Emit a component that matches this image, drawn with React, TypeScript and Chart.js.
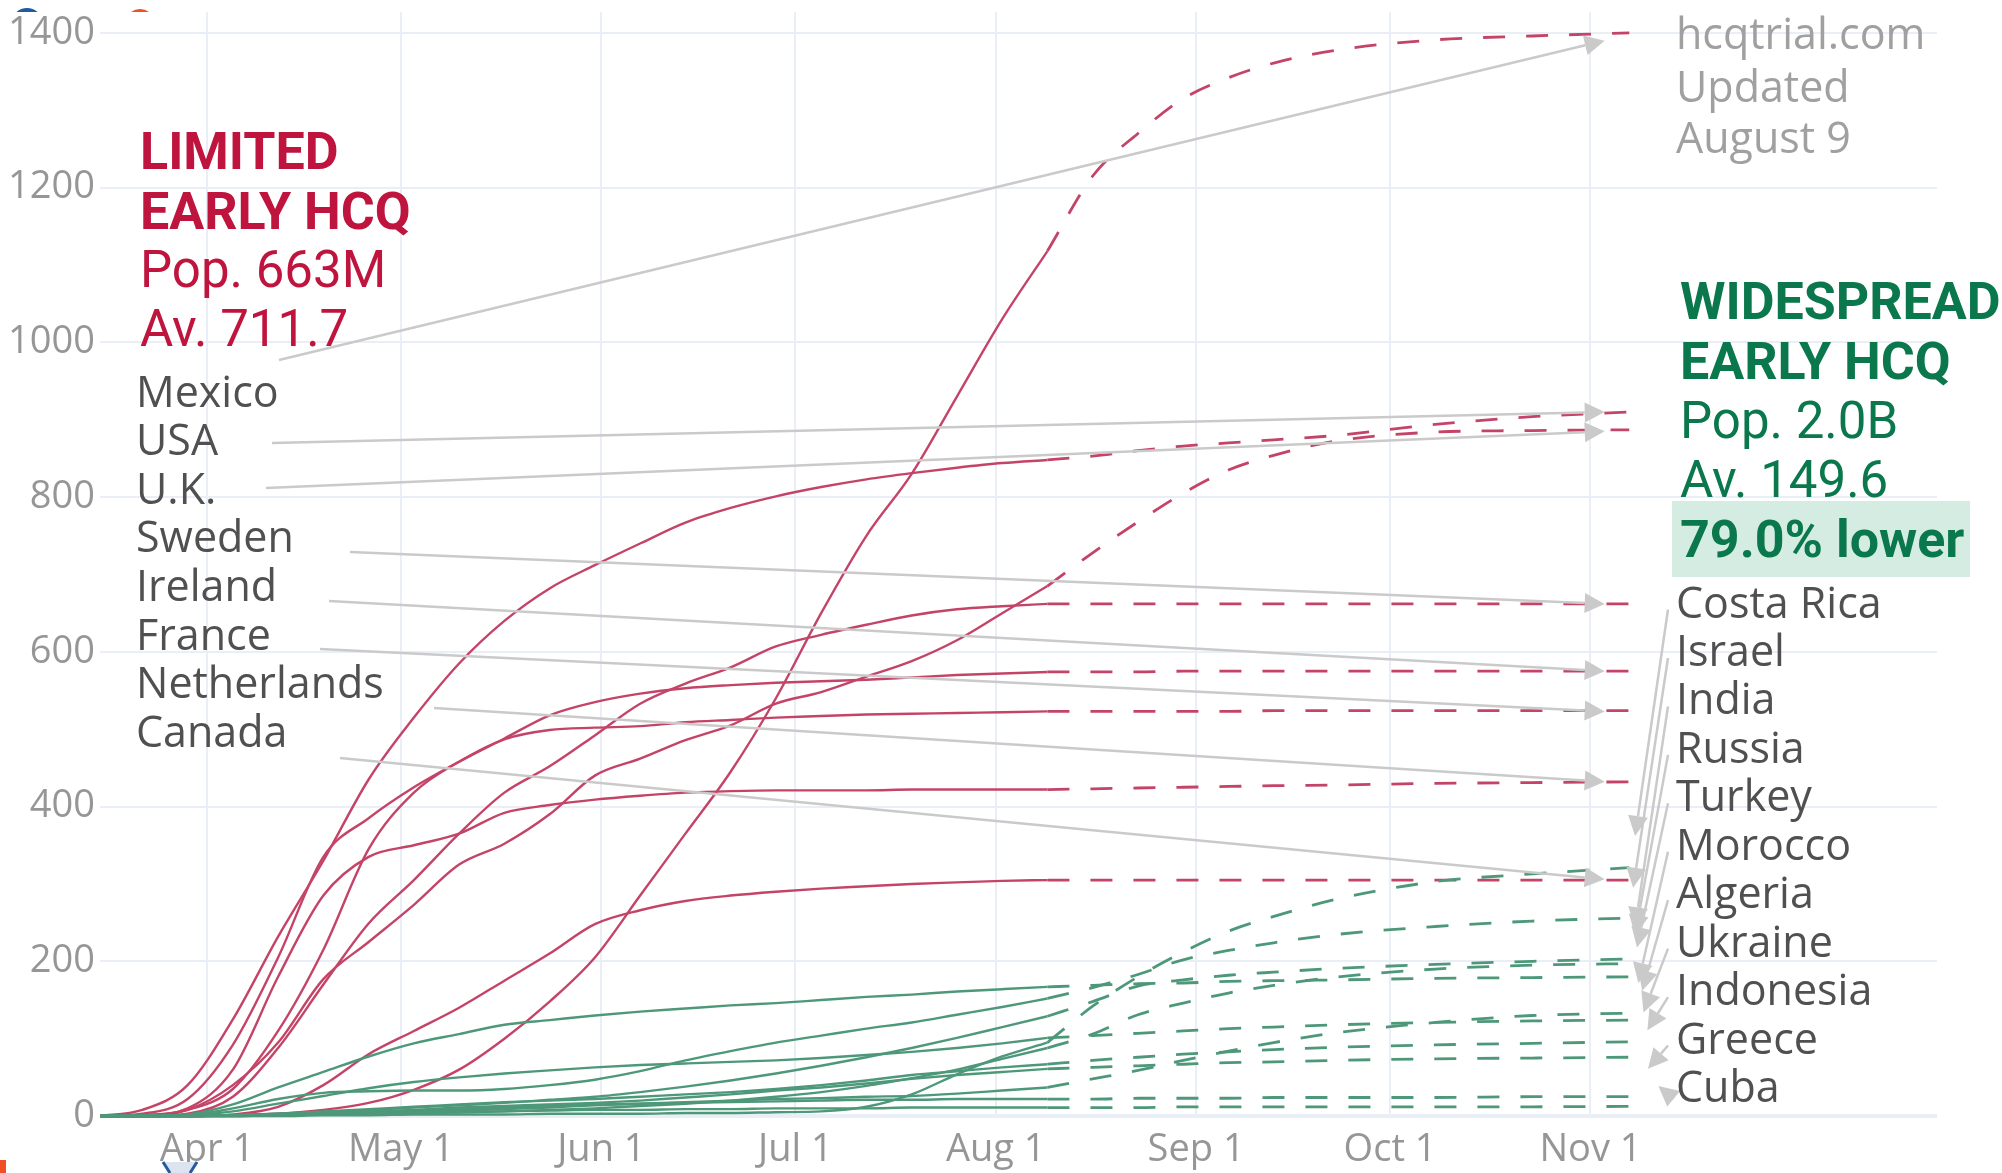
import React, { useEffect, useRef } from 'react';
import { Chart, registerables } from 'chart.js';

Chart.register(...registerables);

// ---------- axes ----------
const xTickDays = [0, 30, 61, 91, 122, 153, 183, 214]; // days since Apr 1
const xTickLabels = ['Apr 1', 'May 1', 'Jun 1', 'Jul 1', 'Aug 1', 'Sep 1', 'Oct 1', 'Nov 1'];
const yTickValues = [0, 200, 400, 600, 800, 1000, 1200, 1400];

// ---------- dates (days since Apr 1) ----------
const solidDays = [-17, -10, -3, 4, 11, 18, 25, 32, 39, 46, 53, 60, 67, 74, 81, 88, 95, 102, 109, 116, 123, 130];
const projDays = [130, 137, 144, 151, 158, 165, 175, 190, 205, 220];

// ---------- LIMITED EARLY HCQ (red) ----------
const mexicoSolid = [0, 0, 0, 1, 3, 8, 17, 34, 60, 100, 148, 205, 285, 365, 445, 540, 650, 750, 830, 930, 1030, 1118];
const mexicoProj = [1118, 1215, 1270, 1315, 1342, 1361, 1378, 1391, 1396, 1400];
const usaSolid = [0, 8, 40, 125, 232, 330, 435, 515, 585, 640, 682, 712, 740, 767, 786, 801, 813, 823, 831, 838, 844, 848];
const usaProj = [848, 853, 860, 866, 870, 874, 880, 894, 904, 910];
const ukSolid = [0, 0, 8, 40, 95, 177, 225, 273, 325, 352, 390, 440, 462, 486, 505, 533, 548, 568, 588, 615, 650, 685];
const ukProj = [685, 728, 768, 805, 835, 854, 873, 884, 886, 887];
const swedenSolid = [0, 0, 3, 25, 88, 170, 249, 305, 365, 418, 452, 492, 533, 559, 580, 607, 622, 635, 647, 655, 659, 662];
const swedenProj = [662, 662, 662, 662, 662, 662, 662, 662, 662, 662];
const irelandSolid = [0, 3, 22, 92, 205, 335, 385, 425, 458, 488, 518, 535, 546, 553, 557, 560, 562, 564, 567, 570, 572, 574];
const irelandProj = [574, 574, 574, 575, 575, 575, 575, 575, 575, 575];
const franceSolid = [0, 1, 8, 35, 110, 215, 345, 418, 458, 487, 499, 502, 504, 509, 512, 515, 517, 519, 520, 521, 522, 523];
const franceProj = [523, 523, 523, 523, 523, 524, 524, 524, 524, 524];
const netherlandsSolid = [0, 1, 10, 60, 180, 285, 335, 350, 365, 392, 402, 409, 414, 418, 420, 421, 421, 421, 422, 422, 422, 422];
const netherlandsProj = [422, 423, 424, 425, 426, 427, 428, 430, 431, 432];
const canadaSolid = [0, 0, 0, 2, 12, 40, 80, 110, 140, 175, 210, 248, 266, 278, 285, 290, 294, 297, 300, 302, 304, 305];
const canadaProj = [305, 305, 305, 305, 305, 305, 305, 305, 305, 305];

// ---------- WIDESPREAD EARLY HCQ (green) ----------
const costaRicaSolid = [0, 0, 0, 0, 0, 1, 1, 2, 2, 2, 3, 3, 3, 4, 4, 5, 6, 12, 28, 54, 77, 95];
const costaRicaProj = [95, 142, 180, 212, 239, 258, 281, 303, 313, 321];
const israelSolid = [0, 0, 1, 10, 22, 30, 32, 33, 33, 35, 40, 47, 58, 72, 84, 95, 104, 113, 121, 131, 141, 152];
const israelProj = [152, 166, 183, 202, 214, 224, 235, 245, 252, 256];
const indiaSolid = [0, 0, 0, 1, 3, 5, 8, 11, 14, 17, 21, 25, 31, 38, 46, 55, 65, 76, 88, 101, 115, 129];
const indiaProj = [129, 148, 168, 176, 182, 186, 191, 196, 200, 203];
const russiaSolid = [0, 0, 0, 0, 1, 2, 3, 4, 5, 6, 8, 10, 13, 16, 20, 25, 31, 39, 49, 60, 74, 88];
const russiaProj = [88, 106, 131, 146, 159, 169, 180, 190, 195, 197];
const turkeySolid = [0, 0, 2, 15, 37, 57, 77, 94, 106, 118, 124, 130, 135, 139, 143, 146, 150, 154, 157, 161, 164, 167];
const turkeyProj = [167, 169, 171, 172, 174, 175, 176, 178, 179, 180];
const moroccoSolid = [0, 0, 0, 0, 1, 2, 3, 5, 7, 9, 11, 14, 16, 18, 20, 22, 23, 25, 26, 29, 33, 37];
const moroccoProj = [37, 48, 59, 72, 84, 95, 108, 121, 130, 133];
const algeriaSolid = [0, 0, 1, 6, 16, 26, 36, 44, 50, 55, 59, 63, 66, 68, 70, 72, 75, 79, 83, 88, 94, 101];
const algeriaProj = [101, 104, 107, 110, 113, 115, 118, 121, 123, 124];
const ukraineSolid = [0, 0, 0, 1, 3, 6, 9, 12, 15, 18, 20, 22, 25, 28, 31, 35, 40, 46, 53, 58, 63, 67];
const ukraineProj = [67, 72, 76, 80, 83, 86, 89, 92, 94, 96];
const indonesiaSolid = [0, 0, 0, 1, 2, 4, 6, 8, 11, 13, 15, 17, 20, 24, 28, 33, 37, 42, 48, 53, 57, 61];
const indonesiaProj = [61, 63, 65, 67, 69, 70, 72, 74, 75, 76];
const greeceSolid = [0, 0, 0, 1, 2, 3, 5, 7, 9, 11, 13, 15, 16, 17, 18, 19, 20, 21, 21, 22, 22, 22];
const greeceProj = [22, 22, 23, 23, 23, 24, 24, 24, 25, 25];
const cubaSolid = [0, 0, 0, 0, 1, 2, 3, 4, 5, 6, 7, 8, 8, 9, 9, 10, 10, 10, 11, 11, 11, 11];
const cubaProj = [11, 11, 11, 12, 12, 12, 12, 12, 12, 12.5];

const limitedSeries = [
  { solid: mexicoSolid, proj: mexicoProj },
  { solid: usaSolid, proj: usaProj },
  { solid: ukSolid, proj: ukProj },
  { solid: swedenSolid, proj: swedenProj },
  { solid: irelandSolid, proj: irelandProj },
  { solid: franceSolid, proj: franceProj },
  { solid: netherlandsSolid, proj: netherlandsProj },
  { solid: canadaSolid, proj: canadaProj },
];
const widespreadSeries = [
  { solid: costaRicaSolid, proj: costaRicaProj },
  { solid: israelSolid, proj: israelProj },
  { solid: indiaSolid, proj: indiaProj },
  { solid: russiaSolid, proj: russiaProj },
  { solid: turkeySolid, proj: turkeyProj },
  { solid: moroccoSolid, proj: moroccoProj },
  { solid: algeriaSolid, proj: algeriaProj },
  { solid: ukraineSolid, proj: ukraineProj },
  { solid: indonesiaSolid, proj: indonesiaProj },
  { solid: greeceSolid, proj: greeceProj },
  { solid: cubaSolid, proj: cubaProj },
];

// ---------- labels & arrows ----------
const leftLabels = ['Mexico', 'USA', 'U.K.', 'Sweden', 'Ireland', 'France', 'Netherlands', 'Canada'];
const leftTipDays = [216.2, 216.2, 216.2, 216.2, 216.2, 216.2, 216.2, 216.2];
const leftTipValues = [1390, 910, 885, 662, 575, 523, 432, 306];
const leftArrowStarts = [[279, 360], [272, 443], [266, 488], [350, 552], [329, 601], [320, 649], [434, 708], [340, 758]];

const rightLabels = ['Costa Rica', 'Israel', 'India', 'Russia', 'Turkey', 'Morocco', 'Algeria', 'Ukraine', 'Indonesia', 'Greece', 'Cuba'];
const rightTipDays = [220.9, 220.6, 220.9, 220.9, 221.2, 221.4, 222.0, 222.2, 222.8, 222.9, 224.5];
const rightTipValues = [362, 295, 244, 234, 218, 172, 162, 134, 111, 61, 39];

const leftTitle = ['LIMITED', 'EARLY HCQ', 'Pop. 663M', 'Av. 711.7'];
const rightTitle = ['WIDESPREAD', 'EARLY HCQ', 'Pop. 2.0B', 'Av. 149.6', '79.0% lower'];
const sourceNote = ['hcqtrial.com', 'Updated', 'August 9'];

// ---------- styles ----------
const RED = 'rgb(196, 68, 104)';
const GREEN = 'rgb(78, 152, 122)';
const GRID = 'rgb(234, 238, 246)';
const TICK = 'rgb(150, 150, 150)';
const ARROW = 'rgb(202, 202, 202)';
const LABEL = 'rgb(80, 80, 80)';
const TITLE_RED = 'rgb(190, 20, 62)';
const TITLE_GREEN = 'rgb(10, 120, 76)';
const NOTE = 'rgb(160, 160, 160)';
const HILITE = 'rgb(213, 236, 226)';

function drawArrow(ctx: CanvasRenderingContext2D, x1: number, y1: number, x2: number, y2: number) {
  const ang = Math.atan2(y2 - y1, x2 - x1);
  const L = 20;
  const W = 10;
  const bx = x2 - L * Math.cos(ang);
  const by = y2 - L * Math.sin(ang);
  ctx.strokeStyle = ARROW;
  ctx.lineWidth = 2.5;
  ctx.setLineDash([]);
  ctx.beginPath();
  ctx.moveTo(x1, y1);
  ctx.lineTo(bx, by);
  ctx.stroke();
  ctx.fillStyle = ARROW;
  ctx.beginPath();
  ctx.moveTo(x2, y2);
  ctx.lineTo(bx + W * Math.sin(ang), by - W * Math.cos(ang));
  ctx.lineTo(bx - W * Math.sin(ang), by + W * Math.cos(ang));
  ctx.closePath();
  ctx.fill();
}

const annotationPlugin = {
  id: 'hcqAnnotations',
  afterDatasetsDraw(chart: any) {
    const { ctx, scales } = chart;
    const x = scales.x;
    const y = scales.y;
    ctx.save();
    leftLabels.forEach((_, i) => {
      const [sx, sy] = leftArrowStarts[i];
      drawArrow(ctx, sx, sy, x.getPixelForValue(leftTipDays[i]), y.getPixelForValue(leftTipValues[i]));
    });
    rightLabels.forEach((_, i) => {
      const baseY = 617.5 + i * 48.45;
      drawArrow(ctx, 1668, baseY - 8, x.getPixelForValue(rightTipDays[i]), y.getPixelForValue(rightTipValues[i]));
    });
    ctx.restore();
  },
  afterDraw(chart: any) {
    const ctx: CanvasRenderingContext2D = chart.ctx;
    ctx.save();
    ctx.textBaseline = 'alphabetic';
    ctx.textAlign = 'left';

    // left title block
    const leftBase = [169, 229, 287, 346];
    leftTitle.forEach((t, i) => {
      ctx.font = (i < 2 ? 'bold 52px Roboto' : '51px Roboto');
      ctx.fillStyle = TITLE_RED;
      ctx.fillText(t, 140, leftBase[i]);
    });

    // left country labels
    ctx.font = '43px "Open Sans"';
    ctx.fillStyle = LABEL;
    leftLabels.forEach((t, i) => {
      ctx.fillText(t, 136, 406.5 + i * 48.6);
    });

    // source note
    ctx.font = '43px "Open Sans"';
    ctx.fillStyle = NOTE;
    const noteBase = [49, 102, 153];
    sourceNote.forEach((t, i) => ctx.fillText(t, 1676, noteBase[i]));

    // right title block
    ctx.fillStyle = HILITE;
    ctx.fillRect(1672, 501, 298, 76);
    const rightBase = [319, 379, 438, 497, 557];
    rightTitle.forEach((t, i) => {
      ctx.font = (i < 2 || i === 4 ? 'bold 52px Roboto' : '51px Roboto');
      ctx.fillStyle = TITLE_GREEN;
      ctx.fillText(t, 1680, rightBase[i]);
    });

    // right country labels
    ctx.font = '43px "Open Sans"';
    ctx.fillStyle = LABEL;
    rightLabels.forEach((t, i) => {
      ctx.fillText(t, 1676, 617.5 + i * 48.45);
    });

    // cut-off logo fragments at the edges
    ctx.save();
    ctx.beginPath();
    ctx.rect(0, 0, 400, 12);
    ctx.clip();
    ctx.strokeStyle = 'rgb(35, 90, 160)';
    ctx.lineWidth = 4;
    ctx.beginPath();
    ctx.arc(27, 24, 14, 0, Math.PI * 2);
    ctx.stroke();
    ctx.fillStyle = 'rgb(240, 80, 40)';
    ctx.beginPath();
    ctx.arc(140, 24, 15, 0, Math.PI * 2);
    ctx.fill();
    ctx.restore();

    ctx.fillStyle = 'rgb(240, 80, 40)';
    ctx.fillRect(0, 1160, 6, 13);
    ctx.fillStyle = 'rgb(220, 228, 240)';
    ctx.beginPath();
    ctx.moveTo(163, 1162);
    ctx.lineTo(197, 1162);
    ctx.lineTo(190, 1173);
    ctx.lineTo(170, 1173);
    ctx.closePath();
    ctx.fill();
    ctx.strokeStyle = 'rgb(35, 90, 160)';
    ctx.lineWidth = 3;
    ctx.beginPath();
    ctx.moveTo(163, 1162);
    ctx.lineTo(170, 1173);
    ctx.moveTo(197, 1162);
    ctx.lineTo(190, 1173);
    ctx.stroke();

    ctx.restore();
  },
};

export default function App() {
  const canvasRef = useRef<HTMLCanvasElement>(null);

  useEffect(() => {
    const canvas = canvasRef.current;
    if (!canvas) return;

    const datasets: any[] = [];
    const addGroup = (list: { solid: number[]; proj: number[] }[], color: string) => {
      list.forEach((s) => {
        datasets.push({
          data: solidDays.map((d, i) => ({ x: d, y: s.solid[i] })),
          borderColor: color,
          borderWidth: 2.4,
          pointRadius: 0,
          fill: false,
          cubicInterpolationMode: 'monotone',
        });
        datasets.push({
          data: projDays.map((d, i) => ({ x: d, y: s.proj[i] })),
          borderColor: color,
          borderWidth: 2.8,
          borderDash: [22, 21],
          pointRadius: 0,
          fill: false,
          cubicInterpolationMode: 'monotone',
        });
      });
    };
    addGroup(widespreadSeries, GREEN);
    addGroup(limitedSeries, RED);

    const tickFont = { family: '"Open Sans", sans-serif', size: 38 };

    const chart = new Chart(canvas, {
      type: 'line',
      data: { datasets },
      options: {
        responsive: false,
        animation: false,
        devicePixelRatio: 1,
        events: [],
        layout: { padding: { left: 0, right: 65, top: 12, bottom: 0 } },
        plugins: { legend: { display: false }, tooltip: { enabled: false } },
        scales: {
          x: {
            type: 'linear',
            min: -16.55,
            max: 267.6,
            afterBuildTicks: (scale: any) => {
              scale.ticks = xTickDays.map((v) => ({ value: v }));
            },
            afterFit: (scale: any) => {
              scale.height = 55;
              scale.paddingLeft = 0;
              scale.paddingRight = 0;
            },
            grid: { color: GRID, lineWidth: 2, drawTicks: false },
            border: { display: false },
            ticks: {
              autoSkip: false,
              maxRotation: 0,
              padding: 9,
              color: TICK,
              font: tickFont,
              callback: (_v: any, i: number) => xTickLabels[i],
            },
          },
          y: {
            type: 'linear',
            min: -2.5,
            max: 1427,
            afterBuildTicks: (scale: any) => {
              scale.ticks = yTickValues.map((v) => ({ value: v }));
            },
            afterFit: (scale: any) => {
              scale.width = 100;
              scale.paddingTop = 0;
              scale.paddingBottom = 0;
            },
            grid: {
              color: GRID,
              lineWidth: (c: any) => (c.tick && c.tick.value === 0 ? 4 : 2),
              drawTicks: false,
            },
            border: { display: false },
            ticks: {
              padding: 5,
              color: TICK,
              font: tickFont,
              callback: (v: any) => String(v),
            },
          },
        },
      },
      plugins: [annotationPlugin],
    });

    return () => chart.destroy();
  }, []);

  return (
    <div style={{ position: 'absolute', left: 0, top: 0, width: 2002, height: 1173, background: '#fff' }}>
      <canvas ref={canvasRef} width={2002} height={1173} style={{ width: 2002, height: 1173, display: 'block' }} />
    </div>
  );
}
